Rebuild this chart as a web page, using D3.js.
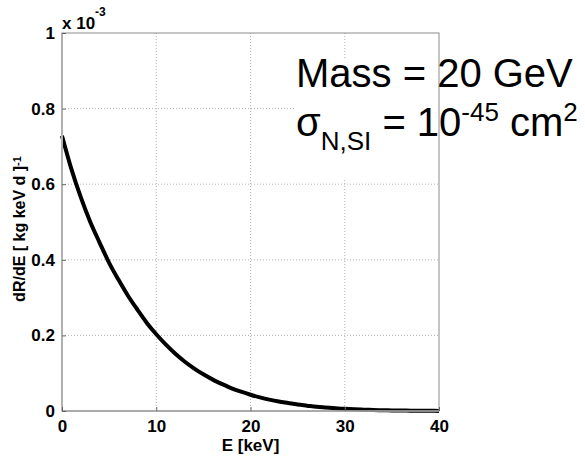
<!DOCTYPE html>
<html>
<head>
<meta charset="utf-8">
<script src="https://cdn.jsdelivr.net/npm/d3@7"></script>
<style>
  body { margin: 0; background: #fff; }
  text { font-family: "Liberation Sans", Arial, Helvetica, sans-serif; }
</style>
</head>
<body>
<div id="chart"></div>
<script>
(function () {

  // recoil energy [keV] and rate (in units of 1e-3 /kg/keV/d)
  const energy = [0, 1, 2, 3, 4, 5, 6, 7, 8, 9, 10, 11, 12, 13, 14, 15, 16, 17, 18, 19, 20,
    21, 22, 23, 24, 25, 26, 27, 28, 29, 30, 31, 32, 33, 34, 35, 36, 37, 38, 39, 40]
  const rate = [0.728, 0.640, 0.565, 0.500, 0.445, 0.392, 0.347, 0.305, 0.268, 0.233, 0.203,
    0.176, 0.152, 0.131, 0.113, 0.097, 0.083, 0.071, 0.060, 0.051, 0.043,
    0.036, 0.030, 0.025, 0.021, 0.017, 0.014, 0.011, 0.009, 0.007, 0.0058,
    0.0046, 0.0036, 0.0028, 0.0021, 0.0016, 0.0012, 0.0009, 0.0006, 0.0004, 0.0003]

  const xTicks = [0, 10, 20, 30, 40]
  const yTicks = [0, 0.2, 0.4, 0.6, 0.8, 1]

  const margin = { top: 33, right: 146, bottom: 45, left: 62 }
  const W = 585, H = 456
  const width = W - margin.left - margin.right
  const height = H - margin.top - margin.bottom

  const svg = d3.select("#chart").append("svg")
      .attr("width", W)
      .attr("height", H)
    .append("g")
      .attr("transform", "translate(" + margin.left + "," + margin.top + ")")

  const x = d3.scaleLinear().domain([0, 40]).range([0, width])
  const y = d3.scaleLinear().domain([0, 1]).range([height, 0])

  // dotted grid
  svg.append("g").selectAll("line")
    .data(xTicks.slice(1, -1))
    .join("line")
      .attr("x1", d => x(d)).attr("x2", d => x(d))
      .attr("y1", 0).attr("y2", height)
      .attr("stroke", "#b5b5b5").attr("stroke-dasharray", "1,2")
  svg.append("g").selectAll("line")
    .data(yTicks.slice(1, -1))
    .join("line")
      .attr("x1", 0).attr("x2", width)
      .attr("y1", d => y(d)).attr("y2", d => y(d))
      .attr("stroke", "#b5b5b5").attr("stroke-dasharray", "1,2")

  // the curve
  const line = d3.line()
    .x((d, i) => x(energy[i]))
    .y(d => y(d))
    .curve(d3.curveMonotoneX)

  svg.append("path")
    .datum(rate)
    .attr("d", line)
    .attr("fill", "none")
    .attr("stroke", "#000")
    .attr("stroke-width", 4)

  // white box behind annotation
  svg.append("rect")
    .attr("x", 232).attr("y", 25)
    .attr("width", 300).attr("height", 120)
    .attr("fill", "#fff")

  // axes box
  svg.append("rect")
    .attr("width", width).attr("height", height)
    .attr("fill", "none").attr("stroke", "#8c8c8c").attr("stroke-width", 1)
  svg.append("line")
    .attr("x1", 0).attr("x2", 0).attr("y1", 0).attr("y2", height)
    .attr("stroke", "#b0b0b0").attr("stroke-width", 2)
  svg.append("line")
    .attr("x1", 0).attr("x2", width).attr("y1", height).attr("y2", height)
    .attr("stroke", "#a0a0a0").attr("stroke-width", 1.5)

  const xAxis = svg.append("g")
    .attr("transform", "translate(0," + height + ")")
    .call(d3.axisBottom(x).tickValues(xTicks).tickSize(-4).tickPadding(9).tickFormat(d3.format("d")))
  const yAxis = svg.append("g")
    .call(d3.axisLeft(y).tickValues(yTicks).tickSize(-4).tickPadding(7).tickFormat(d => d === 0 || d === 1 ? d : d3.format(".1f")(d)))

  ;[xAxis, yAxis].forEach(a => {
    a.select(".domain").remove()
    a.selectAll(".tick line").attr("stroke", "#666")
    a.selectAll(".tick text")
      .attr("fill", "#000")
      .style("font-size", "17px")
      .style("font-weight", "bold")
  })

  // exponent label
  const expo = svg.append("text")
    .attr("x", 0).attr("y", -4)
    .style("font-size", "17px").style("font-weight", "bold")
  expo.append("tspan").text("x 10")
  expo.append("tspan").attr("dy", -13).style("font-size", "12px").text("-3")

  // axis titles
  svg.append("text")
    .attr("x", width / 2).attr("y", height + 40)
    .attr("text-anchor", "middle")
    .style("font-size", "17px").style("font-weight", "bold")
    .text("E [keV]")

  const ylab = svg.append("text")
    .attr("transform", "translate(-37," + (229 - margin.top) + ") rotate(-90)")
    .attr("text-anchor", "middle")
    .style("font-size", "16px").style("font-weight", "bold")
  ylab.append("tspan").text("dR/dE [ kg keV d ]")
  ylab.append("tspan").attr("dy", -4).style("font-size", "11px").text("-1")

  // annotation
  svg.append("text")
    .attr("x", 234).attr("y", 54)
    .style("font-size", "40px")
    .text("Mass = 20 GeV")

  const sig = svg.append("text")
    .attr("x", 234).attr("y", 103)
    .style("font-size", "40px")
  sig.append("tspan").text("σ")
  sig.append("tspan").attr("dy", 14).style("font-size", "26px").text("N,SI")
  sig.append("tspan").attr("dy", -14).text(" = 10")
  sig.append("tspan").attr("dy", -15).style("font-size", "26px").text("-45")
  sig.append("tspan").attr("dy", 15).text(" cm")
  sig.append("tspan").attr("dy", -15).style("font-size", "26px").text("2")

})();
</script>
</body>
</html>
